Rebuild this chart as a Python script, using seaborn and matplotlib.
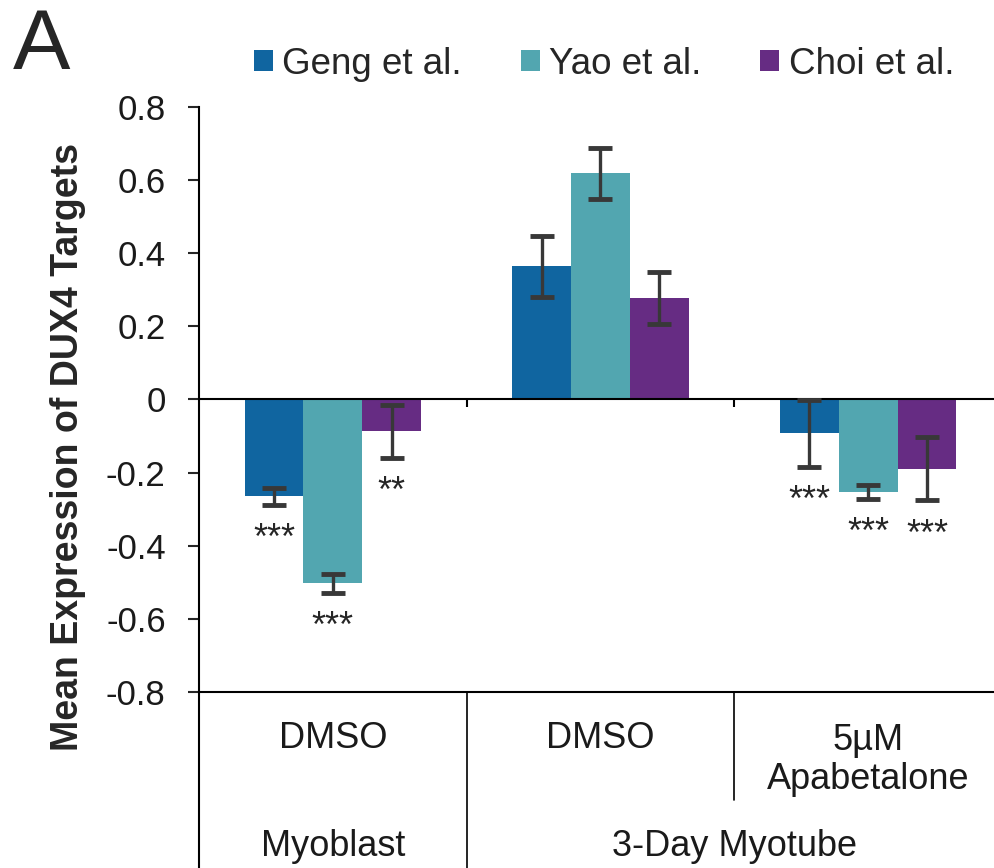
import matplotlib
matplotlib.use("Agg")
import matplotlib.pyplot as plt
import seaborn as sns
import pandas as pd

# values
conditions = ["Myoblast DMSO", "Myotube DMSO", "Myotube Apabetalone"]
studies = ["Geng et al.", "Yao et al.", "Choi et al."]
geng_mean = [-0.265, 0.364, -0.093]
yao_mean = [-0.503, 0.618, -0.252]
choi_mean = [-0.087, 0.277, -0.190]
geng_err = [0.023, 0.084, 0.092]
yao_err = [0.026, 0.070, 0.019]
choi_err = [0.072, 0.071, 0.086]
geng_sig = ["***", "", "***"]
yao_sig = ["***", "", "***"]
choi_sig = ["**", "", "***"]
colors = ["#1065a0", "#52a6b0", "#662c83"]
yticks = [-0.8, -0.6, -0.4, -0.2, 0, 0.2, 0.4, 0.6, 0.8]
ytick_labels = ["-0.8", "-0.6", "-0.4", "-0.2", "0", "0.2", "0.4", "0.6", "0.8"]
treatment_labels = ["DMSO", "DMSO", "5\u00b5M\nApabetalone"]
stage_labels = ["Myoblast", "3-Day Myotube"]

df = pd.DataFrame({
    "condition": conditions * 3,
    "study": [s for s in studies for _ in conditions],
    "mean": geng_mean + yao_mean + choi_mean,
    "err": geng_err + yao_err + choi_err,
    "sig": geng_sig + yao_sig + choi_sig,
})

sns.set_style("white")
plt.rcParams["font.family"] = ["Liberation Sans", "DejaVu Sans"]

fig = plt.figure(figsize=(9.95, 8.68), dpi=100)
ax = fig.add_axes([0.2, 0.2028, 0.807, 0.674])

sns.barplot(data=df, x="condition", y="mean", hue="study", palette=colors,
            width=0.66, errorbar=None, saturation=1, ax=ax, linewidth=0)

# error bars and significance stars, placed on the bars seaborn drew
for container, study in zip(ax.containers, studies):
    sub = df[df["study"] == study]
    for bar, (_, row) in zip(container, sub.iterrows()):
        xc = bar.get_x() + bar.get_width() / 2
        ax.errorbar(xc, row["mean"], yerr=row["err"], color="#383838",
                    elinewidth=2.4, capsize=8.5, capthick=3.5, zorder=5)
        if row["sig"]:
            ax.annotate(row["sig"], xy=(xc, row["mean"] - row["err"]),
                        xytext=(0, -25), textcoords="offset points",
                        ha="center", va="center", fontsize=26)

ax.set_xlim(-0.5, 2.5)
ax.set_ylim(-0.8, 0.8)
ax.set_yticks(yticks)
ax.set_yticklabels(ytick_labels)
ax.tick_params(axis="y", direction="out", length=8, width=1.5, labelsize=25,
               left=True, pad=16, labelcolor="#1a1a1a")
ax.tick_params(axis="x", bottom=False, labelbottom=False)
ax.set_xlabel("")
ax.set_ylabel("Mean Expression of DUX4 Targets", fontsize=27, fontweight="bold")
ax.yaxis.set_label_coords(-0.141, 0.419)

for side in ["top", "right"]:
    ax.spines[side].set_visible(False)
for side in ["left", "bottom"]:
    ax.spines[side].set_linewidth(1.5)
    ax.spines[side].set_color("black")

ax.axhline(0, color="black", linewidth=1.5, zorder=1)
ax.vlines([0.5, 1.5], -0.02, 0, color="black", linewidth=1.5)

# category table under the axes
tr = ax.get_xaxis_transform()
ax.plot([-0.5, -0.5], [0, -0.31], transform=tr, color="black", lw=1.5, clip_on=False)
ax.plot([0.5, 0.5], [0, -0.31], transform=tr, color="black", lw=1.2, clip_on=False)
ax.plot([1.5, 1.5], [0, -0.185], transform=tr, color="black", lw=1.2, clip_on=False)
for i, lab in enumerate(treatment_labels):
    y = -0.117 if "\n" in lab else -0.079
    ax.text(i, y, lab, transform=tr, ha="center", va="center", fontsize=26,
            linespacing=1.15, color="#1a1a1a")
ax.text(0, -0.264, stage_labels[0], transform=tr, ha="center", va="center",
        fontsize=26, color="#1a1a1a")
ax.text(1.5, -0.264, stage_labels[1], transform=tr, ha="center", va="center",
        fontsize=26, color="#1a1a1a")

handles, labels = ax.get_legend_handles_labels()
ax.legend_.remove()
fig.legend(handles, labels, loc="center", bbox_to_anchor=(0.607, 0.926), ncol=3,
           frameon=False, fontsize=26.5, handlelength=0.52, handleheight=0.52,
           handletextpad=0.25, columnspacing=1.6)

fig.text(0.013, 0.921, "A", fontsize=62, ha="left", va="baseline")

fig.savefig("out.png", dpi=100)
